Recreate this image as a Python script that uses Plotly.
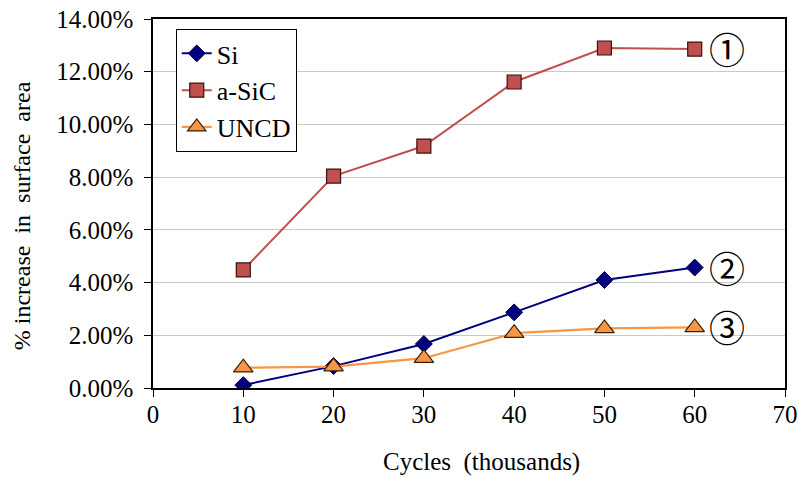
import plotly.graph_objects as go

# Cycles (thousands) and % increase in surface area per film
cycles = [10, 20, 30, 40, 50, 60]
si = [0.0011, 0.0083, 0.0167, 0.0287, 0.0410, 0.0457]
a_sic = [0.0448, 0.0804, 0.0918, 0.1161, 0.1290, 0.1286]
uncd = [0.0077, 0.0081, 0.0113, 0.0208, 0.0226, 0.0230]

series_names = ["Si", "a-SiC", "UNCD"]
end_labels = ["②", "①", "③"]

serif = "Liberation Serif"

fig = go.Figure()

fig.add_trace(go.Scatter(
    x=cycles, y=si, name=series_names[0], mode="lines+markers",
    legendgroup="g1",
    line=dict(color="#000080", width=2),
    marker=dict(symbol="diamond", size=13, color="#000080",
                line=dict(color="#000033", width=1)),
))
fig.add_trace(go.Scatter(
    x=cycles, y=a_sic, name=series_names[1], mode="lines+markers",
    legendgroup="g2",
    line=dict(color="#C0504D", width=2),
    marker=dict(symbol="square", size=14, color="#C0504D",
                line=dict(color="#3a1010", width=1.2)),
))
fig.add_trace(go.Scatter(
    x=cycles, y=uncd, name=series_names[2], mode="lines+markers",
    legendgroup="g3",
    line=dict(color="#F79646", width=2.2),
    marker=dict(symbol="triangle-up", size=17, color="#F79646",
                line=dict(color="#3a2000", width=1.2)),
))

# Circled series numbers at the end of each line
for vals, lab in zip([si, a_sic, uncd], end_labels):
    fig.add_annotation(
        x=cycles[-1], y=vals[-1], text=lab, showarrow=False,
        xanchor="left", xshift=12, yshift=1,
        font=dict(family="Noto Sans CJK JP", size=36, color="black"),
    )

# Axis titles, placed as annotations
fig.add_annotation(
    xref="paper", yref="paper", x=-0.207, y=0.466,
    text="% increase  in  surface  area", textangle=-90, showarrow=False,
    xanchor="center", yanchor="middle",
    font=dict(family=serif, size=24, color="black"),
)
fig.add_annotation(
    xref="paper", yref="paper", x=0.519, y=-0.2,
    text="Cycles  (thousands)", showarrow=False,
    xanchor="center", yanchor="middle",
    font=dict(family=serif, size=25, color="black"),
)

fig.update_layout(
    width=799, height=477,
    margin=dict(l=153, r=14, t=19, b=89),
    paper_bgcolor="white", plot_bgcolor="white",
    font=dict(family=serif, color="black"),
    showlegend=True,
    legend=dict(
        x=0.036, y=0.973, xanchor="left", yanchor="top",
        bgcolor="white", bordercolor="black", borderwidth=1,
        font=dict(family=serif, size=26, color="black"),
        tracegroupgap=0,
    ),
)

fig.update_xaxes(
    range=[0, 70], dtick=10, tick0=0, automargin=False,
    showgrid=False, zeroline=False,
    showline=True, linecolor="black", linewidth=1.5, mirror=True,
    ticks="outside", ticklen=7, tickcolor="black",
    tickfont=dict(family=serif, size=25), ticklabelstandoff=-4,
)
fig.update_yaxes(
    range=[0, 0.14], dtick=0.02, tick0=0, tickformat=".2%", automargin=False,
    showgrid=True, gridcolor="#c8c8c8", gridwidth=1, zeroline=False,
    showline=True, linecolor="black", linewidth=1.5, mirror=True,
    ticks="outside", ticklen=7, tickcolor="black",
    tickfont=dict(family=serif, size=25), ticklabelstandoff=6,
)

fig.write_html("out.html")
